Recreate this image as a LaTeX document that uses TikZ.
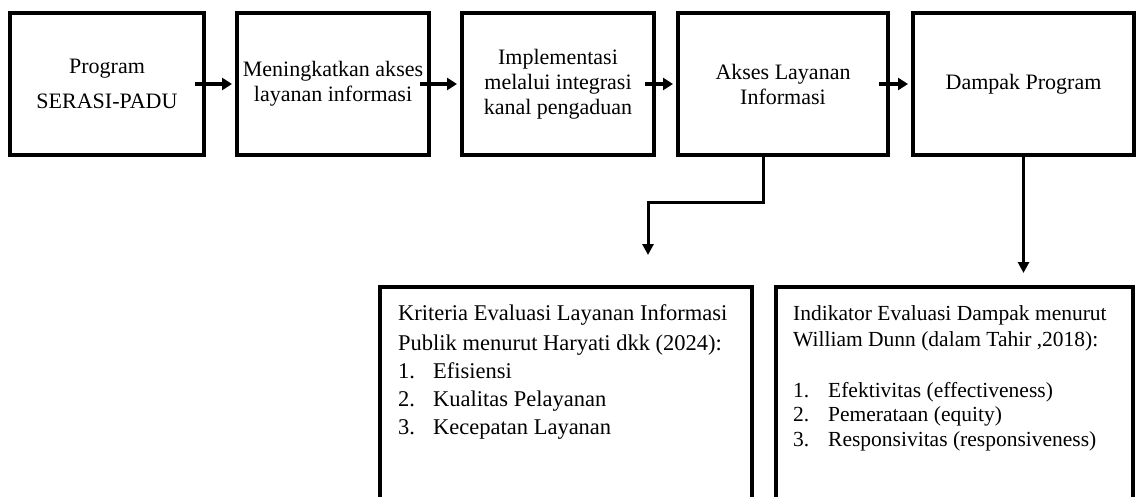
\documentclass[tikz,border=0pt]{standalone}
\usepackage{fontspec}
\setmainfont{Liberation Serif}
\usetikzlibrary{positioning,arrows.meta}

\begin{document}
\begin{tikzpicture}[x=1pt, y=1pt,
        box/.style={draw, line width=3.5pt, align=center, inner sep=2pt, outer sep=0pt,
                    minimum height=142pt, font=\fontsize{22}{25}\selectfont},
        evalbox/.style={draw, line width=3.5pt, outer sep=0pt, minimum height=240pt},
        evaltext/.style={align=left, inner sep=0pt},
        flow/.style={-{Triangle[length=10pt, width=12pt]}, line width=4pt,
                     shorten <=-9pt, shorten >=5pt},
        drop/.style={-{Triangle[length=11pt, width=11pt]}, line width=3pt}]
    \clip (0,0) rectangle (1139,-497);
    % top row
    \node[box, minimum width=194pt] (program) at (107,-84) {Program\\[10pt]SERASI-PADU};
    \node[box, minimum width=192pt, right=33pt of program] (akses) {Meningkatkan akses\\layanan informasi};
    \node[box, minimum width=192pt, right=33pt of akses] (integrasi) {Implementasi\\melalui integrasi\\kanal pengaduan};
    \node[box, minimum width=210pt, right=24pt of integrasi] (layanan) {Akses Layanan\\Informasi};
    \node[box, minimum width=221pt, right=25pt of layanan] (dampak) {Dampak Program};

    \draw[flow] (program) -- (akses);
    \draw[flow] (akses) -- (integrasi);
    \draw[flow] (integrasi) -- (layanan);
    \draw[flow] (layanan) -- (dampak);

    % evaluation boxes
    \node[evalbox, minimum width=372pt, anchor=north west] (kriteria) at (380,-287) {};
    \node[evalbox, minimum width=357pt, anchor=north west] (indikator) at (776,-287) {};

    \node[evaltext, anchor=north west, font=\fontsize{22.5}{28}\selectfont] (kriteriatext)
        at ([shift={(18pt,-17pt)}]kriteria.north west) {%
        Kriteria Evaluasi Layanan Informasi\\[2pt]
        Publik menurut Haryati dkk (2024):\\
        \makebox[35pt][l]{1.}Efisiensi\\
        \makebox[35pt][l]{2.}Kualitas Pelayanan\\
        \makebox[35pt][l]{3.}Kecepatan Layanan};
    \node[evaltext, anchor=north west, font=\fontsize{21.5}{24.5}\selectfont] (indikatortext)
        at ([shift={(17pt,-18pt)}]indikator.north west) {%
        Indikator Evaluasi Dampak menurut\\[2pt]
        William Dunn (dalam Tahir ,2018):\\[26pt]
        \makebox[35pt][l]{1.}Efektivitas (effectiveness)\\
        \makebox[35pt][l]{2.}Pemerataan (equity)\\
        \makebox[35pt][l]{3.}Responsivitas (responsiveness)};

    % connectors down
    \coordinate (kriteriain) at ([shift={(82pt,32pt)}]kriteria.north);
    \coordinate (indikatorin) at ([yshift=14pt]dampak.south |- indikator.north);
    \draw[drop] ([xshift=-20pt]layanan.south) -- ++(0,-47) -| (kriteriain);
    \draw[drop] (dampak.south) -- (indikatorin);
\end{tikzpicture}
\end{document}
